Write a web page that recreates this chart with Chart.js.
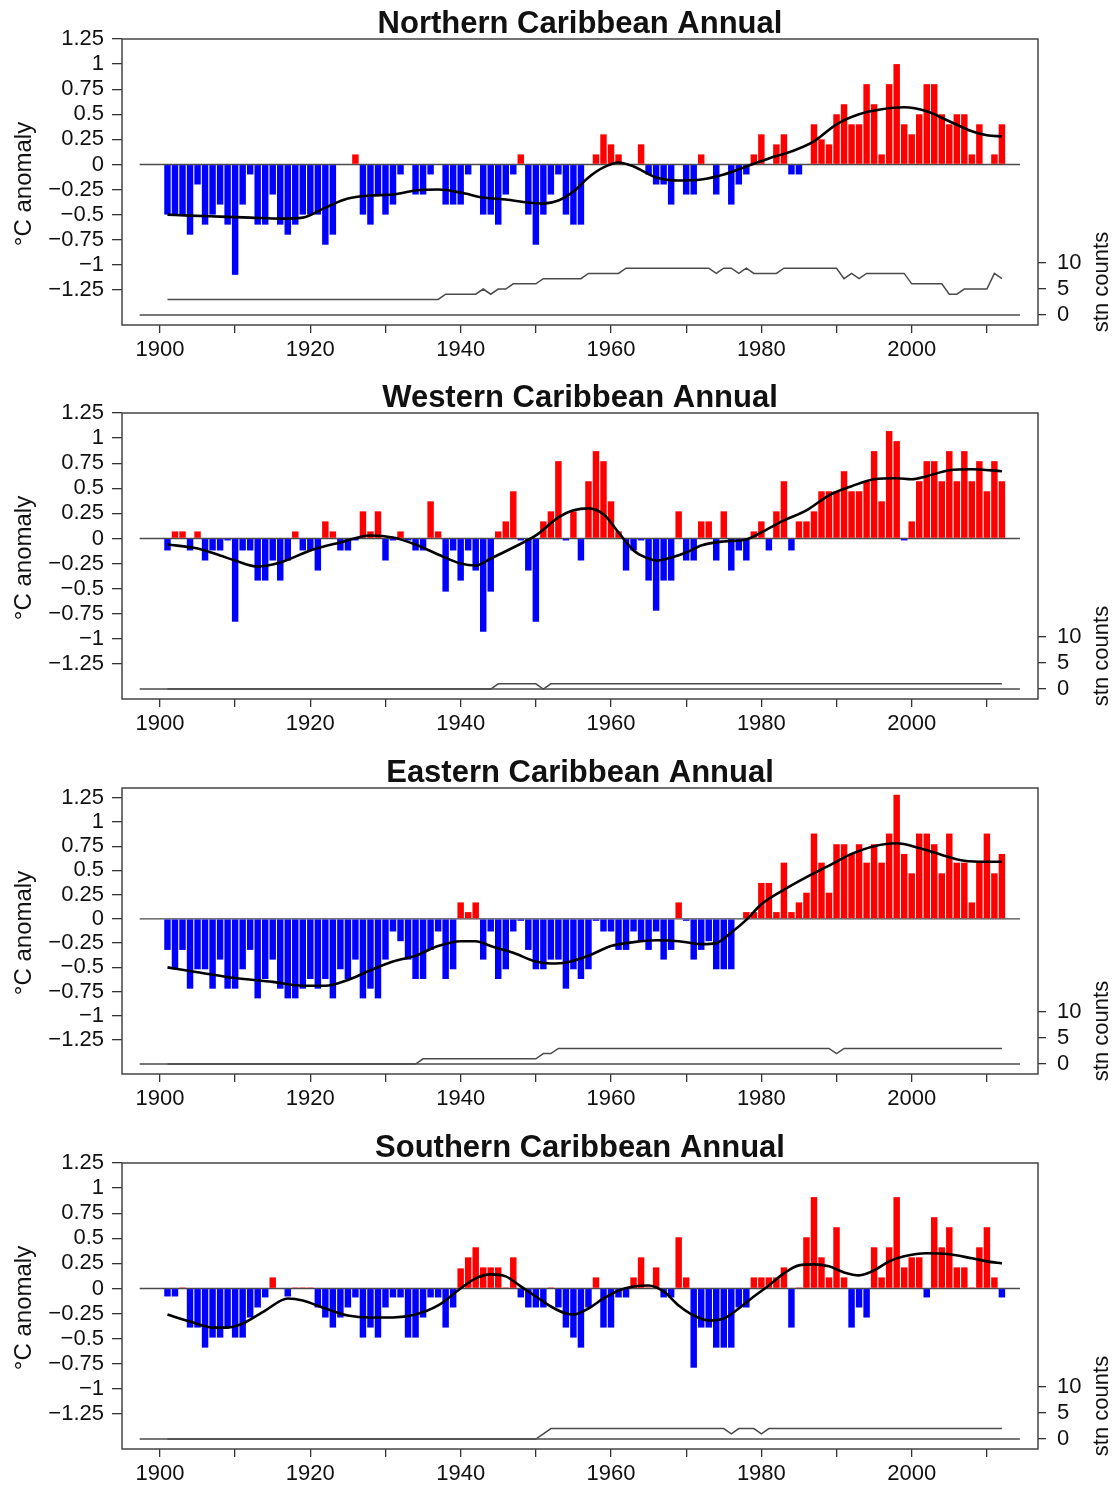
<!DOCTYPE html>
<html>
<head>
<meta charset="utf-8">
<title>Caribbean annual temperature anomalies</title>
<script src="https://cdn.jsdelivr.net/npm/chart.js@4.4.1/dist/chart.umd.min.js"></script>
<style>
  html, body { margin: 0; padding: 0; background: #fff; overflow: hidden; }
  #page { position: relative; width: 1115px; height: 1486px; }
  #page canvas { position: absolute; left: 0; }
</style>
</head>
<body>
<div id="page">
  <canvas id="north" width="1115" height="374" style="top:0px"></canvas>
  <canvas id="west" width="1115" height="374" style="top:374px"></canvas>
  <canvas id="east" width="1115" height="374" style="top:749px"></canvas>
  <canvas id="south" width="1115" height="374" style="top:1124px"></canvas>
</div>
<script>
// annual anomalies (degC) and station counts, one value per year 1901-2012
const FIRST_YEAR = 1901;
const years = Array.from({ length: 112 }, (_, i) => FIRST_YEAR + i);

const northAnom = [
  -0.5, -0.5, -0.5, -0.7, -0.2, -0.6, -0.5, -0.4, -0.6, -1.1,
  -0.4, -0.1, -0.6, -0.6, -0.3, -0.6, -0.7, -0.6, -0.5, -0.5,
  -0.5, -0.8, -0.7, 0, 0, 0.1, -0.5, -0.6, -0.3, -0.5,
  -0.4, -0.1, 0, -0.3, -0.3, -0.1, 0, -0.4, -0.4, -0.4,
  -0.1, 0, -0.5, -0.5, -0.6, -0.3, -0.1, 0.1, -0.5, -0.8,
  -0.5, -0.3, -0.1, -0.5, -0.6, -0.6, 0, 0.1, 0.3, 0.2,
  0.1, 0, 0, 0.2, -0.1, -0.2, -0.2, -0.4, 0, -0.3,
  -0.3, 0.1, 0, -0.3, 0, -0.4, -0.2, -0.1, 0.1, 0.3,
  0, 0.2, 0.3, -0.1, -0.1, 0, 0.4, 0.25, 0.2, 0.5,
  0.6, 0.4, 0.4, 0.8, 0.6, 0.1, 0.8, 1.0, 0.4, 0.3,
  0.5, 0.8, 0.8, 0.5, 0.4, 0.5, 0.5, 0.1, 0.4, 0,
  0.1, 0.4
];
const northStations = [
  3, 3, 3, 3, 3, 3, 3, 3, 3, 3,
  3, 3, 3, 3, 3, 3, 3, 3, 3, 3,
  3, 3, 3, 3, 3, 3, 3, 3, 3, 3,
  3, 3, 3, 3, 3, 3, 3, 4, 4, 4,
  4, 4, 5, 4, 5, 5, 6, 6, 6, 6,
  7, 7, 7, 7, 7, 7, 8, 8, 8, 8,
  8, 9, 9, 9, 9, 9, 9, 9, 9, 9,
  9, 9, 9, 8, 9, 9, 8, 9, 8, 8,
  8, 8, 9, 9, 9, 9, 9, 9, 9, 9,
  7, 8, 7, 8, 8, 8, 8, 8, 8, 6,
  6, 6, 6, 6, 4, 4, 5, 5, 5, 5,
  8, 7
];
const northSmoothYears = [1901, 1904, 1908, 1912, 1916, 1919, 1922, 1925, 1928, 1931, 1934, 1937, 1940, 1943, 1946, 1949, 1951, 1953, 1955, 1957, 1959, 1961, 1963, 1966, 1969, 1972, 1975, 1978, 1981, 1984, 1987, 1990, 1993, 1996, 1999, 2002, 2005, 2008, 2010, 2012];
const northSmooth = [-0.50, -0.51, -0.52, -0.53, -0.54, -0.53, -0.43, -0.34, -0.31, -0.30, -0.26, -0.25, -0.28, -0.33, -0.35, -0.38, -0.39, -0.36, -0.27, -0.13, -0.03, 0.02, -0.02, -0.13, -0.16, -0.15, -0.10, -0.02, 0.06, 0.13, 0.23, 0.40, 0.50, 0.55, 0.57, 0.53, 0.43, 0.33, 0.29, 0.28];

const westAnom = [
  -0.12, 0.07, 0.07, -0.12, 0.07, -0.22, -0.12, -0.12, -0.02, -0.83,
  -0.12, -0.12, -0.42, -0.42, -0.22, -0.42, -0.22, 0.07, -0.12, -0.12,
  -0.32, 0.17, 0.07, -0.12, -0.12, -0.02, 0.27, 0.07, 0.27, -0.22,
  -0.02, 0.07, -0.02, -0.12, -0.12, 0.37, 0.07, -0.53, -0.12, -0.42,
  -0.12, -0.32, -0.93, -0.53, 0.07, 0.17, 0.47, -0.02, -0.32, -0.83,
  0.17, 0.27, 0.77, -0.02, 0.27, -0.22, 0.57, 0.87, 0.77, 0.37,
  0.07, -0.32, -0.12, -0.02, -0.42, -0.72, -0.42, -0.42, 0.27, -0.22,
  -0.22, 0.17, 0.17, -0.22, 0.27, -0.32, -0.12, -0.22, 0.07, 0.17,
  -0.12, 0.27, 0.57, -0.12, 0.17, 0.17, 0.27, 0.47, 0.47, 0.47,
  0.67, 0.47, 0.47, 0.57, 0.87, 0.37, 1.07, 0.97, -0.02, 0.17,
  0.57, 0.77, 0.77, 0.57, 0.87, 0.57, 0.87, 0.57, 0.77, 0.47,
  0.77, 0.57
];
const westStations = [
  0, 0, 0, 0, 0, 0, 0, 0, 0, 0,
  0, 0, 0, 0, 0, 0, 0, 0, 0, 0,
  0, 0, 0, 0, 0, 0, 0, 0, 0, 0,
  0, 0, 0, 0, 0, 0, 0, 0, 0, 0,
  0, 0, 0, 0, 1, 1, 1, 1, 1, 1,
  0, 1, 1, 1, 1, 1, 1, 1, 1, 1,
  1, 1, 1, 1, 1, 1, 1, 1, 1, 1,
  1, 1, 1, 1, 1, 1, 1, 1, 1, 1,
  1, 1, 1, 1, 1, 1, 1, 1, 1, 1,
  1, 1, 1, 1, 1, 1, 1, 1, 1, 1,
  1, 1, 1, 1, 1, 1, 1, 1, 1, 1,
  1, 1
];
const westSmoothYears = [1901, 1905, 1908, 1910, 1913, 1916, 1920, 1924, 1928, 1931, 1934, 1937, 1940, 1942, 1944, 1947, 1950, 1953, 1955, 1957, 1959, 1961, 1963, 1965, 1966, 1968, 1970, 1972, 1975, 1978, 1980, 1983, 1986, 1989, 1992, 1995, 1998, 2000, 2002, 2005, 2008, 2012];
const westSmooth = [-0.06, -0.10, -0.17, -0.22, -0.28, -0.24, -0.12, -0.04, 0.03, 0.01, -0.06, -0.16, -0.25, -0.27, -0.20, -0.09, 0.03, 0.21, 0.28, 0.30, 0.24, 0.06, -0.12, -0.20, -0.22, -0.19, -0.14, -0.07, -0.03, -0.01, 0.06, 0.18, 0.28, 0.43, 0.52, 0.59, 0.60, 0.59, 0.62, 0.68, 0.69, 0.67];

const eastAnom = [
  -0.32, -0.52, -0.32, -0.72, -0.52, -0.52, -0.72, -0.42, -0.72, -0.72,
  -0.52, -0.32, -0.82, -0.62, -0.42, -0.72, -0.82, -0.82, -0.72, -0.62,
  -0.72, -0.62, -0.82, -0.52, -0.62, -0.42, -0.82, -0.72, -0.82, -0.42,
  -0.13, -0.23, -0.42, -0.62, -0.62, -0.32, -0.13, -0.62, -0.52, 0.17,
  0.07, 0.17, -0.42, -0.13, -0.62, -0.52, -0.13, -0.02, -0.32, -0.52,
  -0.52, -0.42, -0.42, -0.72, -0.52, -0.62, -0.52, -0.02, -0.13, -0.13,
  -0.32, -0.32, -0.13, -0.23, -0.32, -0.13, -0.42, -0.32, 0.17, -0.02,
  -0.42, -0.32, -0.23, -0.52, -0.52, -0.52, 0, 0.07, 0.07, 0.37,
  0.37, 0.07, 0.58, 0.07, 0.17, 0.27, 0.88, 0.58, 0.27, 0.77,
  0.77, 0.67, 0.77, 0.58, 0.77, 0.58, 0.88, 1.28, 0.67, 0.47,
  0.88, 0.88, 0.77, 0.47, 0.88, 0.58, 0.58, 0.17, 0.58, 0.88,
  0.47, 0.67
];
const eastStations = [
  0, 0, 0, 0, 0, 0, 0, 0, 0, 0,
  0, 0, 0, 0, 0, 0, 0, 0, 0, 0,
  0, 0, 0, 0, 0, 0, 0, 0, 0, 0,
  0, 0, 0, 0, 1, 1, 1, 1, 1, 1,
  1, 1, 1, 1, 1, 1, 1, 1, 1, 1,
  2, 2, 3, 3, 3, 3, 3, 3, 3, 3,
  3, 3, 3, 3, 3, 3, 3, 3, 3, 3,
  3, 3, 3, 3, 3, 3, 3, 3, 3, 3,
  3, 3, 3, 3, 3, 3, 3, 3, 3, 2,
  3, 3, 3, 3, 3, 3, 3, 3, 3, 3,
  3, 3, 3, 3, 3, 3, 3, 3, 3, 3,
  3, 3
];
const eastSmoothYears = [1901, 1905, 1910, 1915, 1919, 1922, 1925, 1928, 1931, 1934, 1937, 1940, 1942, 1944, 1947, 1950, 1952, 1954, 1957, 1960, 1963, 1966, 1969, 1972, 1974, 1976, 1978, 1980, 1983, 1986, 1989, 1992, 1995, 1998, 2001, 2004, 2007, 2010, 2012];
const eastSmooth = [-0.50, -0.55, -0.61, -0.65, -0.69, -0.69, -0.63, -0.53, -0.44, -0.38, -0.28, -0.23, -0.23, -0.28, -0.35, -0.44, -0.46, -0.45, -0.38, -0.28, -0.24, -0.22, -0.23, -0.26, -0.25, -0.14, -0.01, 0.15, 0.30, 0.43, 0.55, 0.67, 0.75, 0.78, 0.73, 0.66, 0.60, 0.59, 0.59];

const southAnom = [
  -0.08, -0.08, 0.01, -0.39, -0.39, -0.59, -0.49, -0.49, -0.39, -0.49,
  -0.49, -0.29, -0.19, -0.09, 0.11, 0, -0.08, 0.01, 0.01, 0.01,
  -0.19, -0.29, -0.39, -0.29, -0.19, -0.09, -0.49, -0.39, -0.49, -0.19,
  -0.09, -0.09, -0.49, -0.49, -0.29, -0.09, -0.09, -0.39, -0.19, 0.2,
  0.31, 0.41, 0.21, 0.21, 0.21, 0.01, 0.31, -0.09, -0.19, -0.19,
  -0.19, 0.01, -0.19, -0.39, -0.49, -0.59, -0.19, 0.11, -0.39, -0.39,
  -0.09, -0.09, 0.11, 0.31, 0.01, 0.21, -0.09, -0.09, 0.51, 0.11,
  -0.79, -0.39, -0.39, -0.59, -0.59, -0.59, -0.19, -0.19, 0.11, 0.11,
  0.11, 0.11, 0.21, -0.39, 0.01, 0.51, 0.91, 0.31, 0.11, 0.61,
  0.11, -0.39, -0.19, -0.29, 0.41, 0.11, 0.41, 0.91, 0.21, 0.31,
  0.31, -0.09, 0.71, 0.41, 0.61, 0.21, 0.21, 0.01, 0.41, 0.61,
  0.11, -0.09
];
const southStations = [
  0, 0, 0, 0, 0, 0, 0, 0, 0, 0,
  0, 0, 0, 0, 0, 0, 0, 0, 0, 0,
  0, 0, 0, 0, 0, 0, 0, 0, 0, 0,
  0, 0, 0, 0, 0, 0, 0, 0, 0, 0,
  0, 0, 0, 0, 0, 0, 0, 0, 0, 0,
  1, 2, 2, 2, 2, 2, 2, 2, 2, 2,
  2, 2, 2, 2, 2, 2, 2, 2, 2, 2,
  2, 2, 2, 2, 2, 1, 2, 2, 2, 1,
  2, 2, 2, 2, 2, 2, 2, 2, 2, 2,
  2, 2, 2, 2, 2, 2, 2, 2, 2, 2,
  2, 2, 2, 2, 2, 2, 2, 2, 2, 2,
  2, 2
];
const southSmoothYears = [1901, 1904, 1907, 1909, 1911, 1914, 1917, 1919, 1922, 1925, 1928, 1931, 1934, 1937, 1940, 1942, 1944, 1946, 1948, 1950, 1952, 1954, 1955, 1957, 1959, 1961, 1963, 1965, 1967, 1969, 1971, 1973, 1975, 1977, 1979, 1981, 1983, 1985, 1987, 1989, 1991, 1993, 1995, 1997, 1999, 2002, 2005, 2008, 2010, 2012];
const southSmooth = [-0.26, -0.33, -0.39, -0.39, -0.35, -0.22, -0.10, -0.12, -0.20, -0.27, -0.29, -0.29, -0.26, -0.17, 0.00, 0.10, 0.14, 0.12, 0.02, -0.08, -0.18, -0.25, -0.26, -0.20, -0.10, -0.02, 0.02, 0.03, -0.03, -0.17, -0.27, -0.32, -0.30, -0.20, -0.08, 0.03, 0.15, 0.23, 0.24, 0.22, 0.16, 0.13, 0.18, 0.27, 0.32, 0.35, 0.34, 0.30, 0.27, 0.25];

// axis ticks
const xTicks = [1900, 1910, 1920, 1930, 1940, 1950, 1960, 1970, 1980, 1990, 2000, 2010];
const yTicks = [-1.25, -1, -0.75, -0.5, -0.25, 0, 0.25, 0.5, 0.75, 1, 1.25];
const stnTicks = [0, 5, 10];

const X_MIN = 1894.95, X_MAX = 2016.8;
const BASE_START = 1897.3, BASE_END = 2014.4;   // extent of the two zero lines
const FONT = '"Liberation Sans", Arial, Helvetica, sans-serif';

Chart.defaults.font.family = FONT;
Chart.defaults.color = '#111';

function fmtAnomaly(v) {
  const s = String(Math.abs(v));
  return v < 0 ? '\u2212' + s : s;
}

// zero lines, frame, title and the two rotated axis titles
const decor = {
  id: 'decor',
  beforeDatasetsDraw(chart) {
    const { ctx, scales } = chart;
    const x0 = scales.x.getPixelForValue(BASE_START);
    const x1 = scales.x.getPixelForValue(BASE_END);
    ctx.save();
    ctx.strokeStyle = '#4a4a4a';
    ctx.lineWidth = 1.4;
    [scales.y.getPixelForValue(0), scales.yc.getPixelForValue(0)].forEach(py => {
      ctx.beginPath();
      ctx.moveTo(x0, py);
      ctx.lineTo(x1, py);
      ctx.stroke();
    });
    ctx.restore();
  },
  afterDraw(chart, args, opts) {
    const { ctx, chartArea: a } = chart;
    ctx.save();
    ctx.strokeStyle = '#444';
    ctx.lineWidth = 1.5;
    ctx.strokeRect(a.left, a.top, a.right - a.left, a.bottom - a.top);

    ctx.fillStyle = '#111';
    ctx.textAlign = 'center';
    ctx.textBaseline = 'alphabetic';
    ctx.font = 'bold 31px ' + FONT;
    ctx.fillText(opts.title, (a.left + a.right) / 2, 33);

    ctx.font = '24px ' + FONT;
    ctx.save();
    ctx.translate(31, 184);
    ctx.rotate(-Math.PI / 2);
    ctx.fillText('\u00B0C anomaly', 0, 0);
    ctx.restore();

    ctx.font = '22px ' + FONT;
    ctx.save();
    ctx.translate(1108, 282);
    ctx.rotate(-Math.PI / 2);
    ctx.fillText('stn counts', 0, 0);
    ctx.restore();
    ctx.restore();
  }
};

function drawPanel(p) {
  const bars = years.map((yr, i) => ({ x: yr, y: p.anom[i] }));
  const stations = years.map((yr, i) => ({ x: yr, y: p.stations[i] }));
  const smooth = p.smoothYears.map((yr, i) => ({ x: yr, y: p.smooth[i] }));

  new Chart(document.getElementById(p.id), {
    type: 'bar',
    data: {
      datasets: [
        { type: 'line', data: smooth, yAxisID: 'y', borderColor: '#000', borderWidth: 2.6,
          pointRadius: 0, cubicInterpolationMode: 'monotone', order: 1 },
        { type: 'line', data: stations, yAxisID: 'yc', borderColor: '#4a4a4a', borderWidth: 1.5,
          pointRadius: 0, tension: 0, order: 2 },
        { type: 'bar', data: bars, yAxisID: 'y', order: 3,
          backgroundColor: p.anom.map(v => v > 0 ? '#ff0000' : '#0000ff'),
          barPercentage: 0.86, categoryPercentage: 1 }
      ]
    },
    options: {
      responsive: false,
      animation: false,
      devicePixelRatio: 1,
      layout: { padding: { top: 39, left: 0, right: 0, bottom: 0 } },
      plugins: {
        legend: { display: false },
        tooltip: { enabled: false },
        decor: { title: p.title }
      },
      scales: {
        x: {
          type: 'linear', min: X_MIN, max: X_MAX, offset: false,
          afterBuildTicks: s => { s.ticks = xTicks.map(v => ({ value: v })); },
          afterFit: s => { s.height = 49; },
          grid: { offset: false, drawOnChartArea: false, tickLength: 8, color: '#333', lineWidth: 1.3 },
          border: { display: false },
          ticks: { autoSkip: false, maxRotation: 0, padding: 4, font: { size: 22 }, color: '#111',
                   callback: v => (v % 20 === 0 ? String(v) : '') }
        },
        y: {
          position: 'left', min: -1.6, max: p.yMax,
          afterBuildTicks: s => { s.ticks = yTicks.map(v => ({ value: v })); },
          afterFit: s => { s.width = 122; },
          grid: { drawOnChartArea: false, tickLength: 10, color: '#333', lineWidth: 1.3 },
          border: { display: false },
          ticks: { autoSkip: false, padding: 8, font: { size: 22 }, color: '#111', callback: v => fmtAnomaly(v) }
        },
        yc: {
          position: 'right', min: -1.92, max: 53.1,
          afterBuildTicks: s => { s.ticks = stnTicks.map(v => ({ value: v })); },
          afterFit: s => { s.width = 77; },
          grid: { drawOnChartArea: false, tickLength: 8, color: '#333', lineWidth: 1.3 },
          border: { display: false },
          ticks: { autoSkip: false, padding: 11, font: { size: 22 }, color: '#111' }
        }
      }
    },
    plugins: [decor]
  });
}

[
  { id: 'north', title: 'Northern Caribbean Annual', anom: northAnom, stations: northStations,
    smoothYears: northSmoothYears, smooth: northSmooth, yMax: 1.25 },
  { id: 'west', title: 'Western Caribbean Annual', anom: westAnom, stations: westStations,
    smoothYears: westSmoothYears, smooth: westSmooth, yMax: 1.25 },
  { id: 'east', title: 'Eastern Caribbean Annual', anom: eastAnom, stations: eastStations,
    smoothYears: eastSmoothYears, smooth: eastSmooth, yMax: 1.35 },
  { id: 'south', title: 'Southern Caribbean Annual', anom: southAnom, stations: southStations,
    smoothYears: southSmoothYears, smooth: southSmooth, yMax: 1.25 }
].forEach(drawPanel);
</script>
</body>
</html>
